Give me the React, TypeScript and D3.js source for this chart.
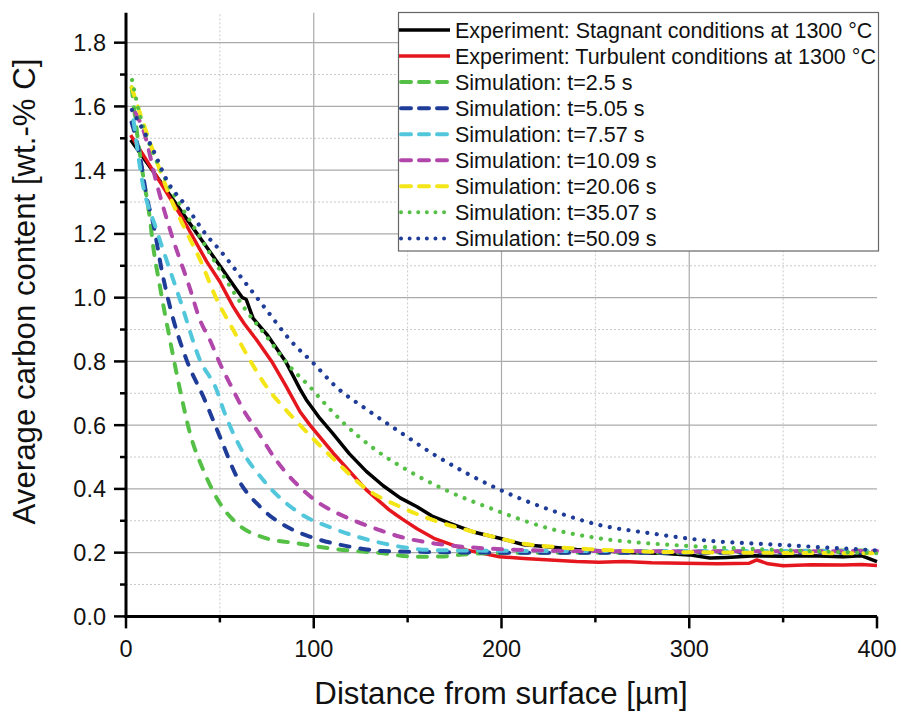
import React from "react";
import * as d3 from "d3";

// ---------- data (distance in µm, carbon in wt.-%) ----------
const stagnantX = [2.5, 10, 20, 30, 40, 50, 58, 62, 64, 67.7, 75, 85, 92.7, 96, 103.3, 110, 119, 128, 137, 146, 155, 163, 172.6, 185, 199, 212, 226, 240, 255, 270, 285, 300, 311, 320, 335, 350, 365, 382, 392, 400];
const stagnantY = [1.495, 1.433, 1.35, 1.266, 1.183, 1.1, 1.033, 1.0, 0.995, 0.935, 0.885, 0.8, 0.713, 0.68, 0.621, 0.575, 0.51, 0.455, 0.41, 0.372, 0.344, 0.315, 0.292, 0.265, 0.245, 0.225, 0.218, 0.21, 0.205, 0.2, 0.198, 0.193, 0.183, 0.185, 0.19, 0.189, 0.19, 0.187, 0.19, 0.172];

const turbulentX = [2.5, 10, 20, 30, 43, 50, 54.5, 57.1, 60, 63, 69.6, 77.6, 85, 92.7, 98, 110.4, 128, 140, 144, 148, 155, 164, 181.5, 199, 212, 226, 240, 252, 265, 280, 297, 315, 332, 336, 342, 350, 365, 382, 392, 400];
const turbulentY = [1.51, 1.44, 1.345, 1.25, 1.113, 1.05, 1.0, 0.972, 0.945, 0.918, 0.867, 0.8, 0.725, 0.642, 0.6, 0.512, 0.397, 0.335, 0.318, 0.302, 0.275, 0.245, 0.208, 0.187, 0.182, 0.177, 0.172, 0.17, 0.172, 0.168, 0.167, 0.165, 0.167, 0.177, 0.165, 0.159, 0.162, 0.161, 0.163, 0.16];

const sim2_5X = [3, 3.9, 6.6, 9.2, 12.8, 14.5, 18.1, 23.4, 28.8, 34.1, 41.2, 50, 59, 73.1, 92.7, 110.4, 137, 154.8, 168, 181.5, 200, 250, 300, 350, 400];
const sim2_5Y = [1.66, 1.615, 1.484, 1.379, 1.244, 1.16, 1.034, 0.868, 0.71, 0.574, 0.459, 0.355, 0.292, 0.248, 0.228, 0.212, 0.198, 0.187, 0.188, 0.195, 0.199, 0.2, 0.2, 0.205, 0.207];

const sim5_05X = [3, 7.5, 11, 14.5, 19, 23.4, 32.3, 41.2, 50, 59, 71.4, 89.1, 98, 119, 137, 164, 200, 250, 300, 400];
const sim5_05Y = [1.55, 1.442, 1.317, 1.233, 1.087, 0.972, 0.804, 0.689, 0.564, 0.438, 0.344, 0.271, 0.25, 0.219, 0.205, 0.202, 0.2, 0.2, 0.2, 0.2];

const sim7_57X = [4, 8.4, 16.3, 22.5, 28.8, 39.4, 48.3, 51.8, 60.7, 73.1, 92.7, 110.4, 137, 163.7, 200, 250, 300, 400];
const sim7_57Y = [1.557, 1.374, 1.212, 1.102, 0.993, 0.804, 0.71, 0.65, 0.532, 0.428, 0.323, 0.276, 0.229, 0.208, 0.206, 0.205, 0.205, 0.205];

const sim10_09X = [5, 9.2, 16.3, 24.3, 34, 39.4, 44.7, 50, 57.1, 62.5, 69.6, 80, 92.7, 103, 110.4, 121, 135, 146, 164, 190, 220, 250, 300, 400];
const sim10_09Y = [1.58, 1.526, 1.359, 1.197, 1.03, 0.93, 0.867, 0.794, 0.71, 0.648, 0.585, 0.49, 0.405, 0.355, 0.33, 0.302, 0.271, 0.25, 0.229, 0.214, 0.207, 0.205, 0.204, 0.205];

const sim20_06X = [3, 7.5, 15, 23.4, 31, 39.4, 48.3, 57.1, 66, 74.9, 85.6, 92.7, 110.4, 128, 146, 163.7, 181.5, 195.6, 212, 226, 250, 279, 330, 400];
const sim20_06Y = [1.66, 1.578, 1.45, 1.317, 1.22, 1.12, 0.995, 0.899, 0.804, 0.72, 0.645, 0.6, 0.495, 0.4, 0.344, 0.302, 0.271, 0.25, 0.228, 0.219, 0.21, 0.203, 0.2, 0.198];

const sim35_07X = [3.2, 8, 14, 22, 30, 40, 50, 62.5, 74.9, 87.4, 98, 104, 115.7, 133.5, 151, 169, 196, 226, 252, 279, 306, 350, 400];
const sim35_07Y = [1.683, 1.56, 1.46, 1.36, 1.28, 1.185, 1.087, 0.972, 0.878, 0.783, 0.72, 0.68, 0.608, 0.52, 0.455, 0.4, 0.335, 0.275, 0.245, 0.229, 0.219, 0.208, 0.198];

const sim50_09X = [3.2, 14.5, 21.7, 32.3, 43, 50, 62.5, 74.9, 87.4, 100.7, 111, 128, 146, 164, 181.5, 197.4, 226, 252, 279, 306, 350, 400];
const sim50_09Y = [1.589, 1.463, 1.369, 1.285, 1.195, 1.149, 1.055, 0.961, 0.867, 0.789, 0.725, 0.65, 0.578, 0.508, 0.449, 0.402, 0.334, 0.287, 0.261, 0.24, 0.224, 0.207];

const legendLabels = [
  "Experiment: Stagnant conditions at 1300 °C",
  "Experiment: Turbulent conditions at 1300 °C",
  "Simulation: t=2.5 s",
  "Simulation: t=5.05 s",
  "Simulation: t=7.57 s",
  "Simulation: t=10.09 s",
  "Simulation: t=20.06 s",
  "Simulation: t=35.07 s",
  "Simulation: t=50.09 s",
];

const xMajorTicks = [0, 100, 200, 300, 400];
const xMinorTicks = [50, 150, 250, 350];
const yMajorTicks = [0, 0.2, 0.4, 0.6, 0.8, 1.0, 1.2, 1.4, 1.6, 1.8];
const yMinorTicks = [0.1, 0.3, 0.5, 0.7, 0.9, 1.1, 1.3, 1.5, 1.7];

const xTitle = "Distance from surface [µm]";
const yTitle = "Average carbon content [wt.-% C]";

// ---------- styles ----------
const FONT = "'Liberation Sans', Arial, Helvetica, sans-serif";
const DASH = "9 11";
const DOT = "0.01 9.5";

type Series = { xs: number[]; ys: number[]; color: string; dash: string | null; width: number; smooth: boolean };

const series: Series[] = [
  { xs: stagnantX, ys: stagnantY, color: "#000000", dash: null, width: 3.5, smooth: false },
  { xs: turbulentX, ys: turbulentY, color: "#e5161d", dash: null, width: 3.5, smooth: false },
  { xs: sim2_5X, ys: sim2_5Y, color: "#55c046", dash: DASH, width: 4, smooth: true },
  { xs: sim5_05X, ys: sim5_05Y, color: "#1f3d98", dash: DASH, width: 4, smooth: true },
  { xs: sim7_57X, ys: sim7_57Y, color: "#52c7dc", dash: DASH, width: 4, smooth: true },
  { xs: sim10_09X, ys: sim10_09Y, color: "#b247ab", dash: DASH, width: 4, smooth: true },
  { xs: sim20_06X, ys: sim20_06Y, color: "#f4e616", dash: DASH, width: 4, smooth: true },
  { xs: sim35_07X, ys: sim35_07Y, color: "#55c046", dash: DOT, width: 4.2, smooth: true },
  { xs: sim50_09X, ys: sim50_09Y, color: "#1f3d98", dash: DOT, width: 4.2, smooth: true },
];

export default function App() {
  const W = 901;
  const H = 713;
  const x = d3.scaleLinear().domain([0, 400]).range([126, 877]);
  const y = d3.scaleLinear().domain([0, 1.9]).range([616.4, 10.8]);
  const yTop = 12.7;

  const makePath = (s: Series) => {
    const pts: [number, number][] = s.xs.map((v, i) => [v, s.ys[i]]);
    const gen = d3
      .line<[number, number]>()
      .x((p) => x(p[0]))
      .y((p) => y(p[1]))
      .curve(s.smooth ? d3.curveMonotoneX : d3.curveLinear);
    return gen(pts) || "";
  };

  const legX0 = 398.5;
  const legY0 = 12.5;
  const legW = 480;
  const legH = 238.5;
  const rowY = (i: number) => 30 + i * 26.05;

  return (
    <svg
      width={W}
      height={H}
      style={{ position: "absolute", left: 0, top: 0, background: "#fff" }}
      fontFamily={FONT}
    >
      <rect x={0} y={0} width={W} height={H} fill="#fff" />
      {/* minor grid */}
      {yMinorTicks.map((t) => (
        <line key={"ymg" + t} x1={x(0)} x2={x(400)} y1={y(t)} y2={y(t)} stroke="#c9c9c9" strokeWidth={1} strokeDasharray="2 2" />
      ))}
      {xMinorTicks.map((t) => (
        <line key={"xmg" + t} x1={x(t)} x2={x(t)} y1={y(0)} y2={yTop} stroke="#c9c9c9" strokeWidth={1} strokeDasharray="2 2" />
      ))}
      {/* major grid */}
      {yMajorTicks.filter((t) => t > 0).map((t) => (
        <line key={"yg" + t} x1={x(0)} x2={x(400)} y1={y(t)} y2={y(t)} stroke="#ababab" strokeWidth={1.2} />
      ))}
      {xMajorTicks.filter((t) => t > 0 && t < 400).map((t) => (
        <line key={"xg" + t} x1={x(t)} x2={x(t)} y1={y(0)} y2={yTop} stroke="#ababab" strokeWidth={1.2} />
      ))}

      {/* series */}
      {series.map((s, i) => (
        <path
          key={"s" + i}
          d={makePath(s)}
          fill="none"
          stroke={s.color}
          strokeWidth={s.width}
          strokeDasharray={s.dash || undefined}
          strokeLinecap={s.dash ? "round" : "butt"}
          strokeLinejoin="round"
        />
      ))}

      {/* axes */}
      <line x1={x(0)} x2={x(0)} y1={y(0) + 1.5} y2={yTop} stroke="#000" strokeWidth={3} />
      <line x1={x(0) - 1.5} x2={x(400)} y1={y(0)} y2={y(0)} stroke="#000" strokeWidth={3} />
      {yMajorTicks.map((t) => (
        <line key={"yt" + t} x1={x(0) - 12} x2={x(0)} y1={y(t)} y2={y(t)} stroke="#000" strokeWidth={2.5} />
      ))}
      {yMinorTicks.map((t) => (
        <line key={"ymt" + t} x1={x(0) - 6} x2={x(0)} y1={y(t)} y2={y(t)} stroke="#000" strokeWidth={2.5} />
      ))}
      {xMajorTicks.map((t) => (
        <line key={"xt" + t} x1={x(t)} x2={x(t)} y1={y(0)} y2={y(0) + 12} stroke="#000" strokeWidth={2.5} />
      ))}
      {xMinorTicks.map((t) => (
        <line key={"xmt" + t} x1={x(t)} x2={x(t)} y1={y(0)} y2={y(0) + 6} stroke="#000" strokeWidth={2.5} />
      ))}

      {/* tick labels */}
      {yMajorTicks.map((t) => (
        <text key={"yl" + t} x={106} y={y(t)} dy="0.36em" textAnchor="end" fontSize={23.5} fill="#111">
          {t.toFixed(1)}
        </text>
      ))}
      {xMajorTicks.map((t) => (
        <text key={"xl" + t} x={x(t)} y={657} textAnchor="middle" fontSize={23.5} fill="#111">
          {t}
        </text>
      ))}

      {/* axis titles */}
      <text x={501} y={704} textAnchor="middle" fontSize={31.2} fill="#111">
        {xTitle}
      </text>
      <text transform="translate(35,291.5) rotate(-90)" textAnchor="middle" fontSize={31.2} fill="#111">
        {yTitle}
      </text>

      {/* legend */}
      <rect x={legX0} y={legY0} width={legW} height={legH} fill="#fff" stroke="#666" strokeWidth={1.2} />
      {series.map((s, i) => (
        <g key={"lg" + i}>
          <line
            x1={s.dash ? 401 : 399}
            x2={s.dash ? 448 : 450}
            y1={rowY(i)}
            y2={rowY(i)}
            stroke={s.color}
            strokeWidth={s.dash ? 4 : 3.5}
            strokeDasharray={s.dash === DASH ? "10 8" : s.dash === DOT ? "0.01 8.6" : undefined}
            strokeLinecap={s.dash ? "round" : "butt"}
          />
          <text x={455} y={rowY(i) + 7.5} fontSize={21.5} fill="#111">
            {legendLabels[i]}
          </text>
        </g>
      ))}
    </svg>
  );
}
